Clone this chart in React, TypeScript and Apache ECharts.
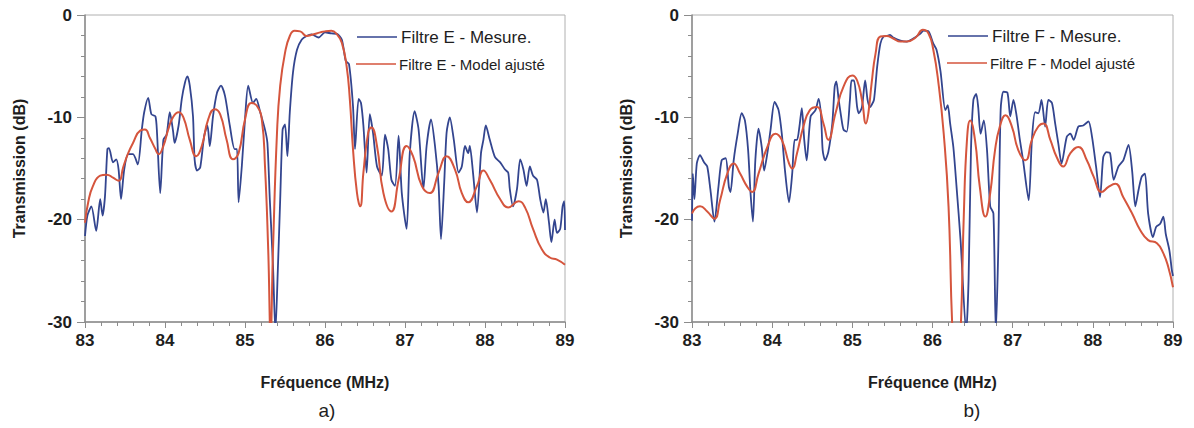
import React, { useEffect, useRef } from "react";
import * as echarts from "echarts";

// ---------- Data ----------
const xTickLabels = ["83", "84", "85", "86", "87", "88", "89"];
const yTickLabels = ["-30", "-20", "-10", "0"];

const measEFreq = [83.0, 83.03, 83.08, 83.14, 83.19, 83.22, 83.25, 83.28, 83.3, 83.35, 83.39, 83.42, 83.45, 83.49, 83.54, 83.6, 83.66, 83.71, 83.74, 83.79, 83.83, 83.88, 83.9, 83.94, 83.98, 84.02, 84.06, 84.1, 84.12, 84.17, 84.21, 84.25, 84.28, 84.31, 84.35, 84.37, 84.4, 84.44, 84.49, 84.53, 84.56, 84.6, 84.65, 84.7, 84.75, 84.81, 84.87, 84.9, 84.92, 84.96, 85.0, 85.04, 85.1, 85.14, 85.19, 85.25, 85.28, 85.31, 85.35, 85.38, 85.41, 85.44, 85.47, 85.5, 85.53, 85.56, 85.6, 85.65, 85.71, 85.77, 85.83, 85.92, 86.0, 86.08, 86.15, 86.21, 86.26, 86.3, 86.35, 86.375, 86.42, 86.45, 86.48, 86.52, 86.56, 86.6, 86.65, 86.71, 86.75, 86.79, 86.83, 86.875, 86.92, 86.96, 87.02, 87.06, 87.12, 87.17, 87.23, 87.27, 87.325, 87.375, 87.42, 87.45, 87.49, 87.52, 87.56, 87.61, 87.67, 87.71, 87.75, 87.79, 87.81, 87.85, 87.9, 87.95, 87.98, 88.01, 88.06, 88.125, 88.19, 88.25, 88.29, 88.31, 88.35, 88.4, 88.44, 88.48, 88.52, 88.56, 88.6, 88.65, 88.69, 88.73, 88.76, 88.8, 88.83, 88.87, 88.9, 88.94, 88.97, 88.99, 89.0];
const measEDb = [-21.6, -19.6, -18.7, -21.1, -18.0, -19.6, -17.7, -13.1, -13.0, -14.4, -14.1, -15.1, -18.0, -15.1, -13.6, -13.6, -14.6, -11.2, -9.5, -8.1, -9.7, -9.9, -11.5, -17.4, -12.2, -11.7, -9.5, -11.3, -12.5, -10.8, -8.2, -6.6, -6.0, -6.9, -9.9, -14.1, -15.2, -14.9, -11.8, -10.8, -12.8, -9.9, -7.6, -6.9, -7.9, -10.8, -13.1, -13.1, -18.3, -14.8, -10.2, -6.9, -8.6, -8.2, -9.5, -11.2, -12.5, -18.0, -24.5, -31, -25.0, -18.0, -11.2, -10.7, -13.8, -9.5, -5.6, -3.4, -2.4, -2.05, -1.9, -2.2, -1.7, -1.8, -1.85, -2.4, -4.5, -4.8, -8.9, -13.1, -8.2, -8.6, -10.8, -15.4, -9.7, -11.5, -14.8, -15.7, -11.7, -13.1, -16.1, -16.7, -11.8, -17.4, -20.9, -13.5, -9.4, -11.2, -17.0, -12.8, -10.2, -12.8, -16.7, -21.9, -16.4, -11.5, -10.0, -12.2, -15.4, -14.8, -12.8, -13.5, -12.8, -15.4, -19.3, -13.5, -12.2, -10.8, -12.2, -13.9, -14.4, -15.1, -15.4, -17.0, -18.7, -17.0, -14.1, -15.1, -16.7, -14.8, -15.7, -16.1, -18.0, -19.3, -18.0, -20.3, -22.2, -20.0, -21.3, -20.9, -18.7, -18.2, -21.0];

const modelEFreq = [83.0, 83.04, 83.1, 83.19, 83.27, 83.35, 83.42, 83.48, 83.54, 83.6, 83.69, 83.75, 83.81, 83.88, 83.92, 83.98, 84.04, 84.1, 84.17, 84.23, 84.31, 84.39, 84.46, 84.54, 84.62, 84.69, 84.77, 84.85, 84.92, 85.0, 85.08, 85.15, 85.21, 85.25, 85.29, 85.32, 85.35, 85.4, 85.44, 85.5, 85.56, 85.62, 85.69, 85.77, 85.85, 85.94, 86.0, 86.08, 86.15, 86.21, 86.27, 86.31, 86.35, 86.4, 86.44, 86.48, 86.54, 86.58, 86.65, 86.73, 86.83, 86.92, 87.02, 87.1, 87.21, 87.31, 87.42, 87.52, 87.625, 87.71, 87.79, 87.9, 87.98, 88.06, 88.19, 88.29, 88.42, 88.5, 88.6, 88.71, 88.81, 88.9, 89.0];
const modelEDb = [-20.3, -18.3, -16.7, -15.7, -15.6, -15.9, -16.2, -14.8, -13.5, -12.5, -11.3, -11.2, -12.0, -13.1, -13.6, -12.8, -11.2, -10.0, -9.5, -10.0, -12.2, -13.8, -12.8, -10.2, -9.2, -9.7, -12.2, -14.1, -13.5, -10.2, -8.6, -8.9, -10.2, -14.8, -22.9, -31, -22.9, -11.5, -6.9, -3.7, -2.05, -1.55, -1.6, -2.05, -1.9, -1.7, -1.6, -1.55, -1.9, -2.7, -5.0, -8.2, -13.1, -17.4, -18.7, -15.4, -11.5, -11.0, -12.8, -17.4, -19.2, -16.1, -12.8, -13.8, -16.7, -17.4, -15.4, -13.8, -15.1, -17.4, -18.3, -16.7, -15.2, -16.1, -18.0, -18.8, -18.2, -18.8, -20.9, -22.9, -23.7, -23.9, -24.4];

const measFFreq = [83.0, 83.01, 83.03, 83.06, 83.1, 83.15, 83.19, 83.23, 83.28, 83.33, 83.37, 83.42, 83.46, 83.48, 83.52, 83.57, 83.62, 83.66, 83.7, 83.73, 83.76, 83.79, 83.83, 83.87, 83.9, 83.94, 83.98, 84.03, 84.08, 84.12, 84.16, 84.21, 84.25, 84.28, 84.31, 84.34, 84.37, 84.4, 84.43, 84.48, 84.54, 84.58, 84.61, 84.63, 84.66, 84.7, 84.75, 84.78, 84.8, 84.83, 84.86, 84.89, 84.93, 84.97, 84.99, 85.02, 85.06, 85.08, 85.12, 85.16, 85.19, 85.22, 85.24, 85.27, 85.31, 85.35, 85.39, 85.43, 85.47, 85.51, 85.6, 85.68, 85.76, 85.85, 85.89, 85.95, 86.01, 86.05, 86.1, 86.16, 86.19, 86.22, 86.26, 86.3, 86.35, 86.42, 86.45, 86.48, 86.51, 86.545, 86.57, 86.6, 86.64, 86.68, 86.72, 86.76, 86.79, 86.82, 86.85, 86.885, 86.935, 86.97, 87.01, 87.05, 87.09, 87.13, 87.2, 87.24, 87.28, 87.32, 87.36, 87.405, 87.445, 87.49, 87.53, 87.57, 87.61, 87.675, 87.72, 87.76, 87.82, 87.88, 87.945, 87.99, 88.04, 88.09, 88.13, 88.17, 88.215, 88.26, 88.32, 88.38, 88.445, 88.49, 88.53, 88.57, 88.61, 88.65, 88.69, 88.75, 88.79, 88.84, 88.88, 88.91, 88.955, 88.985, 89.0];
const measFDb = [-20.1, -15.5, -18.0, -14.5, -13.7, -14.4, -14.8, -17.1, -20.2, -16.8, -14.2, -14.0, -16.8, -17.3, -14.2, -11.6, -9.6, -10.3, -13.2, -17.4, -20.2, -14.2, -11.1, -12.9, -15.2, -13.5, -11.2, -8.5, -9.3, -11.6, -15.2, -18.3, -15.5, -12.2, -12.2, -10.9, -9.1, -12.2, -14.2, -9.9, -9.3, -8.2, -9.9, -13.2, -14.2, -13.4, -10.6, -7.0, -6.5, -8.3, -9.9, -11.2, -11.4, -8.3, -6.4, -6.4, -9.0, -9.6, -9.0, -6.4, -8.3, -9.0, -8.8, -8.3, -5.05, -2.8, -2.1, -2.05, -1.95, -2.2, -2.5, -2.6, -2.3, -1.8, -1.53, -1.6, -2.8, -3.4, -5.5, -9.3, -8.8, -10.6, -12.9, -16.8, -22.0, -31, -25.9, -13.2, -8.3, -7.7, -9.0, -11.6, -10.3, -13.2, -18.7, -19.4, -31, -23.0, -9.3, -7.5, -7.6, -9.9, -8.3, -9.9, -12.2, -14.2, -18.1, -12.2, -9.5, -9.6, -8.3, -10.9, -8.3, -8.6, -10.6, -12.6, -14.5, -11.9, -11.6, -12.2, -10.9, -10.8, -10.4, -11.9, -14.8, -17.8, -13.9, -13.4, -13.5, -16.1, -14.8, -14.2, -12.7, -15.2, -18.7, -17.1, -15.8, -15.5, -19.4, -21.7, -20.7, -20.4, -19.7, -21.4, -23.0, -24.9, -25.5];

const modelFFreq = [83.0, 83.04, 83.1, 83.19, 83.28, 83.35, 83.44, 83.52, 83.6, 83.69, 83.75, 83.83, 83.94, 84.04, 84.12, 84.21, 84.25, 84.31, 84.39, 84.47, 84.56, 84.64, 84.7, 84.79, 84.89, 85.0, 85.06, 85.12, 85.17, 85.2, 85.24, 85.29, 85.35, 85.43, 85.51, 85.6, 85.68, 85.79, 85.88, 85.95, 86.01, 86.075, 86.14, 86.2, 86.25, 86.3, 86.35, 86.39, 86.43, 86.47, 86.53, 86.59, 86.66, 86.72, 86.78, 86.84, 86.91, 86.99, 87.07, 87.16, 87.24, 87.32, 87.385, 87.47, 87.55, 87.63, 87.72, 87.82, 87.925, 88.01, 88.11, 88.195, 88.28, 88.38, 88.49, 88.59, 88.69, 88.8, 88.88, 88.94, 89.0];
const modelFDb = [-19.4, -18.9, -18.7, -19.2, -19.9, -18.1, -15.5, -14.5, -15.5, -16.8, -17.3, -15.5, -12.9, -11.6, -12.2, -14.5, -15.0, -13.5, -10.9, -9.3, -9.0, -10.6, -12.2, -9.6, -7.0, -5.9, -6.4, -8.3, -10.6, -9.6, -6.7, -3.75, -2.1, -2.05, -2.3, -2.6, -2.6, -2.2, -1.45, -1.8, -3.4, -6.7, -11.6, -18.7, -31, -36, -31, -19.7, -12.2, -10.3, -12.2, -16.8, -19.7, -17.4, -13.2, -10.9, -9.8, -10.9, -13.2, -14.2, -12.2, -10.9, -10.6, -12.2, -13.9, -14.8, -13.5, -12.9, -14.2, -15.8, -17.3, -16.8, -16.5, -17.8, -19.4, -21.0, -22.0, -22.3, -23.3, -24.6, -26.6];

const nameMeasE = "Filtre E - Mesure.";
const nameModelE = "Filtre E - Model ajusté";
const nameMeasF = "Filtre F - Mesure.";
const nameModelF = "Filtre F - Model ajusté";
const xAxisTitle = "Fréquence (MHz)";
const yAxisTitle = "Transmission (dB)";

// ---------- Styles ----------
const FONT = 'Arial, "Liberation Sans", Helvetica, sans-serif';
const BLUE = "#33458f";
const RED = "#d5553d";
const AXIS = "#8c8c8c";
const TEXT = "#1e1e1e";

const pairs = (xs: number[], ys: number[]) => xs.map((x, i) => [x, ys[i]]);

function makeX(gridIndex: number) {
  return {
    type: "value",
    gridIndex,
    min: 83,
    max: 89,
    interval: 1,
    name: xAxisTitle,
    nameLocation: "middle",
    nameGap: 52,
    nameTextStyle: { fontFamily: FONT, fontSize: 16, fontWeight: "bold", color: TEXT },
    axisLine: { show: true, onZero: false, lineStyle: { color: AXIS, width: 1.5 } },
    axisTick: { show: true, length: 6, lineStyle: { color: AXIS } },
    minorTick: { show: true, splitNumber: 5, length: 4, lineStyle: { color: AXIS } },
    splitLine: { show: false },
    minorSplitLine: { show: false },
    axisLabel: {
      margin: 10,
      fontFamily: FONT,
      fontSize: 17,
      fontWeight: "bold",
      color: TEXT,
      formatter: (v: number) => xTickLabels[Math.round(v - 83)] ?? "",
    },
  };
}

function makeY(gridIndex: number) {
  return {
    type: "value",
    gridIndex,
    min: -30,
    max: 0,
    interval: 10,
    name: yAxisTitle,
    nameLocation: "middle",
    nameRotate: 90,
    nameGap: 58,
    nameTextStyle: { fontFamily: FONT, fontSize: 16, fontWeight: "bold", color: TEXT },
    axisLine: { show: true, onZero: false, lineStyle: { color: AXIS, width: 1.5 } },
    axisTick: { show: true, length: 8, lineStyle: { color: AXIS } },
    minorTick: { show: true, splitNumber: 5, length: 4, lineStyle: { color: AXIS } },
    splitLine: { show: false },
    minorSplitLine: { show: false },
    axisLabel: {
      margin: 13,
      fontFamily: FONT,
      fontSize: 17,
      fontWeight: "bold",
      color: TEXT,
      formatter: (v: number) => yTickLabels[Math.round((v + 30) / 10)] ?? "",
    },
  };
}

function lineSeries(name: string, data: number[][], color: string, idx: number, smooth: number, width: number) {
  return {
    type: "line",
    name,
    xAxisIndex: idx,
    yAxisIndex: idx,
    data,
    smooth,
    showSymbol: false,
    symbol: "none",
    clip: true,
    lineStyle: { color, width },
    itemStyle: { color },
    emphasis: { disabled: true },
  };
}

function legendGraphic(x: number, y1: number, y2: number, t1: string, t2: string) {
  return [
    { type: "line", shape: { x1: x, y1, x2: x + 40, y2: y1 }, style: { stroke: BLUE, lineWidth: 1.5 } },
    { type: "text", x: x + 44, y: y1, style: { text: t1, fill: TEXT, font: `17px ${FONT}`, verticalAlign: "middle", align: "left" } },
    { type: "line", shape: { x1: x - 1, y1: y2, x2: x + 39, y2 }, style: { stroke: RED, lineWidth: 1.5 } },
    { type: "text", x: x + 42, y: y2, style: { text: t2, fill: TEXT, font: `15px ${FONT}`, verticalAlign: "middle", align: "left" } },
  ];
}

export default function App() {
  const ref = useRef<HTMLDivElement>(null);
  useEffect(() => {
    if (!ref.current) return;
    const chart = echarts.init(ref.current, null, { renderer: "svg" });
    const gridCommon = { show: true, borderColor: "#b0b0b0", borderWidth: 1, backgroundColor: "transparent", containLabel: false };
    chart.setOption({
      animation: false,
      backgroundColor: "#ffffff",
      grid: [
        { ...gridCommon, left: 85, top: 15, width: 480, height: 307 },
        { ...gridCommon, left: 692, top: 15, width: 481, height: 307 },
      ],
      xAxis: [makeX(0), makeX(1)],
      yAxis: [makeY(0), makeY(1)],
      series: [
        lineSeries(nameMeasE, pairs(measEFreq, measEDb), BLUE, 0, 0.25, 1.8),
        lineSeries(nameModelE, pairs(modelEFreq, modelEDb), RED, 0, 0.5, 2),
        lineSeries(nameMeasF, pairs(measFFreq, measFDb), BLUE, 1, 0.25, 1.8),
        lineSeries(nameModelF, pairs(modelFFreq, modelFDb), RED, 1, 0.5, 2),
      ],
      graphic: [
        ...legendGraphic(357, 37, 64, nameMeasE, nameModelE),
        ...legendGraphic(948, 36, 63, nameMeasF, nameModelF),
        { type: "text", x: 327, y: 410, style: { text: "a)", fill: TEXT, font: `19px ${FONT}`, align: "center", verticalAlign: "middle" } },
        { type: "text", x: 972, y: 410, style: { text: "b)", fill: TEXT, font: `19px ${FONT}`, align: "center", verticalAlign: "middle" } },
      ],
    });
    return () => chart.dispose();
  }, []);
  return (
    <div
      ref={ref}
      style={{ position: "fixed", left: 0, top: 0, width: 1194, height: 428, background: "#fff" }}
    />
  );
}
